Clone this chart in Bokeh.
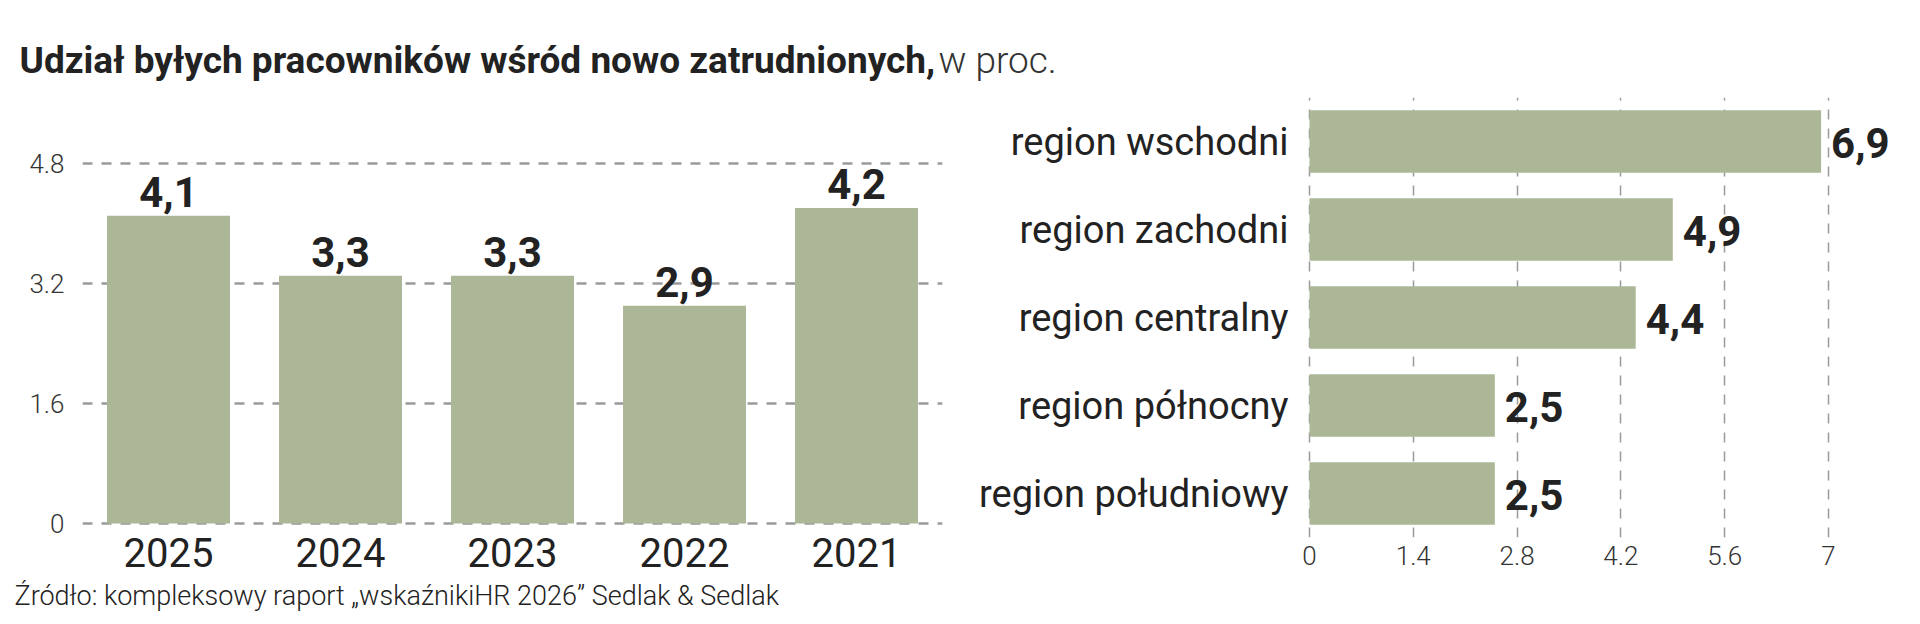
from bokeh.plotting import figure
from bokeh.models import FactorRange, Range1d, Label, Title, FixedTicker, ColumnDataSource, CustomJSTickFormatter
from bokeh.layouts import column, row
from bokeh.embed import file_html
from bokeh.resources import INLINE
from bokeh.core.properties import value

# ---------------- data ----------------
TITLE_BOLD = "Udział byłych pracowników wśród nowo zatrudnionych,"
TITLE_LIGHT = "w proc."
SOURCE = "Źródło: kompleksowy raport „wskaźnikiHR 2026” Sedlak & Sedlak"

years = ["2025", "2024", "2023", "2022", "2021"]
year_values = [4.1, 3.3, 3.3, 2.9, 4.2]
left_ticks = [0, 1.6, 3.2, 4.8]

regions = ["region wschodni", "region zachodni", "region centralny", "region północny", "region południowy"]
region_values = [6.9, 4.9, 4.4, 2.5, 2.5]
right_ticks = [0, 1.4, 2.8, 4.2, 5.6, 7]

# ---------------- style ----------------
BAR = "#abb797"
DARK = "#222222"
GRID = "#9a9a9a"
FONT = "Roboto"
FONT_LIGHT = "Roboto Light"


def fmt(v):
    return f"{v:.1f}".replace(".", ",")


js_fmt = CustomJSTickFormatter(code="return tick.toString();")

# ---------------- title ----------------
TH = 86
pt = figure(width=1920, height=TH, x_range=Range1d(0, 1920), y_range=Range1d(0, TH),
            output_backend="svg", toolbar_location=None, min_border=0,
            x_axis_location=None, y_axis_location=None, outline_line_color=None)
pt.grid.visible = False
pt.add_layout(Label(x=19, y=5, text=TITLE_BOLD, text_font=FONT, text_font_style="bold",
                    text_font_size="37px", text_color=DARK, text_baseline="bottom"))
pt.add_layout(Label(x=938, y=5, text=TITLE_LIGHT, text_font=FONT_LIGHT, text_font_style="normal",
                    text_font_size="37px", text_color="#333333", text_baseline="bottom"))

RH = 624 - TH
BT, BB = 11, 86

# ---------------- left chart ----------------
src1 = ColumnDataSource(dict(x=years, top=year_values, lab=[fmt(v) for v in year_values]))
p1 = figure(width=968, height=RH, x_range=FactorRange(factors=years), y_range=Range1d(-0.186, 5.673),
            output_backend="svg", toolbar_location=None,
            min_border_left=82, min_border_right=26, min_border_top=BT, min_border_bottom=BB,
            outline_line_color=None)
p1.vbar(x="x", top="top", width=0.715, source=src1, fill_color=BAR, line_color=None)
p1.text(x="x", y="top", text="lab", source=src1, text_align="center", text_baseline="bottom",
        y_offset=-9, text_font=value(FONT), text_font_style="bold", text_font_size="42px",
        text_color=DARK)
p1.xgrid.visible = False
p1.yaxis.ticker = FixedTicker(ticks=left_ticks, minor_ticks=[])
p1.yaxis.formatter = js_fmt
p1.ygrid.grid_line_color = GRID
p1.ygrid.grid_line_dash = "10 9"
p1.ygrid.grid_line_width = 2.5
for ax in (p1.xaxis, p1.yaxis):
    ax.axis_line_color = None
    ax.major_tick_line_color = None
    ax.minor_tick_line_color = None
p1.yaxis.major_label_text_font = FONT_LIGHT
p1.yaxis.major_label_text_font_size = "26px"
p1.yaxis.major_label_text_color = "#333333"
p1.yaxis.major_label_standoff = 12
p1.xaxis.major_label_text_font = FONT
p1.xaxis.major_label_text_font_size = "40px"
p1.xaxis.major_label_text_color = DARK
p1.xaxis.major_label_standoff = -6
p1.add_layout(Title(text=SOURCE, align="left", offset=-68, text_font=FONT_LIGHT,
                    text_font_style="normal", text_font_size="27px", text_color=DARK,
                    vertical_align="top", standoff=21), "below")

# ---------------- right chart ----------------
src2 = ColumnDataSource(dict(y=regions, right=region_values, lab=[fmt(v) for v in region_values]))
p2 = figure(width=952, height=RH, y_range=FactorRange(factors=list(reversed(regions))),
            x_range=Range1d(-0.04, 8.106), output_backend="svg", toolbar_location=None,
            min_border_left=338, min_border_right=10, min_border_top=BT, min_border_bottom=BB,
            outline_line_color=None)
p2.hbar(y="y", right="right", left=0, height=0.71, source=src2, fill_color=BAR, line_color=None)
p2.text(x="right", y="y", text="lab", source=src2, text_align="left", text_baseline="middle",
        x_offset=10, y_offset=1, text_font=value(FONT), text_font_style="bold",
        text_font_size="42px", text_color=DARK)
p2.ygrid.visible = False
p2.xaxis.ticker = FixedTicker(ticks=right_ticks, minor_ticks=[])
p2.xaxis.formatter = js_fmt
p2.xgrid.grid_line_color = GRID
p2.xgrid.grid_line_dash = "10 9"
p2.xgrid.grid_line_width = 1.5
for ax in (p2.xaxis, p2.yaxis):
    ax.axis_line_color = None
    ax.major_tick_line_color = None
    ax.minor_tick_line_color = None
p2.xaxis.major_label_text_font = FONT_LIGHT
p2.xaxis.major_label_text_font_size = "26px"
p2.xaxis.major_label_text_color = "#333333"
p2.xaxis.major_label_standoff = 2
p2.yaxis.major_label_text_font = FONT
p2.yaxis.major_label_text_font_size = "38px"
p2.yaxis.major_label_text_color = DARK
p2.yaxis.major_label_standoff = 12

layout = column(pt, row(p1, p2))
open("out.html", "w").write(file_html(layout, INLINE))
